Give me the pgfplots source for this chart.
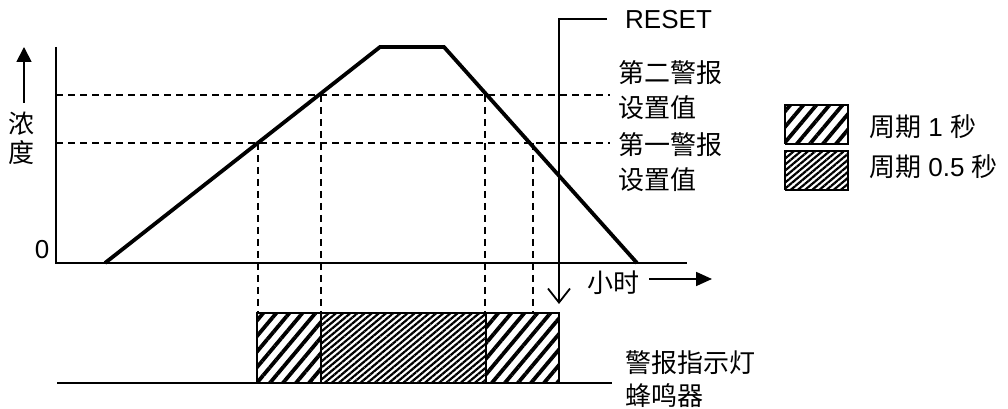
\documentclass[border=0pt]{standalone}
\usepackage{pgfplots}
\pgfplotsset{compat=1.18}
\usepackage{fontspec}
\setmainfont{Liberation Sans}
\newfontfamily\cjk{Noto Sans CJK SC}
\usetikzlibrary{patterns.meta,arrows.meta}
\newcommand\F{\fontsize{26}{30}\selectfont}
\begin{document}
\begin{tikzpicture}
\begin{axis}[width=1008pt,height=409pt,scale only axis,
  xmin=0,xmax=1008,ymin=0,ymax=409,hide axis,clip=false]
% axes
\addplot[line width=2.6pt] coordinates {(56,362) (56,146) (687,146)};
% concentration curve
\addplot[line width=3.8pt] coordinates {(105,146) (380,362) (444,362) (637,146)};
% alarm levels
\addplot[line width=1.9pt,dash pattern=on 7pt off 5pt] coordinates {(56,314) (610,314)};
\addplot[line width=1.9pt,dash pattern=on 7pt off 5pt] coordinates {(56,266) (610,266)};
% vertical dashed
\addplot[line width=1.9pt,dash pattern=on 7pt off 5pt] coordinates {(258,266) (258,96)};
\addplot[line width=1.9pt,dash pattern=on 7pt off 5pt] coordinates {(321,314) (321,96)};
\addplot[line width=1.9pt,dash pattern=on 7pt off 5pt] coordinates {(485,314) (485,96)};
\addplot[line width=1.9pt,dash pattern=on 7pt off 5pt] coordinates {(533,266) (533,96)};
% baseline for alarm
\addplot[line width=2.6pt] coordinates {(57,26) (612,26)};
% bars
\addplot[draw=black,line width=2pt,pattern={Lines[angle=50,distance=10pt,line width=3.8pt]}]
  coordinates {(257,26) (321,26) (321,96) (257,96) (257,26)};
\addplot[draw=black,line width=2pt,pattern={Lines[angle=40,distance=4.6pt,line width=2.2pt]}]
  coordinates {(321,26) (486,26) (486,96) (321,96) (321,26)};
\addplot[draw=black,line width=2pt,pattern={Lines[angle=50,distance=10pt,line width=3.8pt]}]
  coordinates {(486,26) (559,26) (559,96) (486,96) (486,26)};
% RESET line
\addplot[line width=1.8pt,-{Straight Barb[length=14pt,width=22pt]}]
  coordinates {(607,390) (559,390) (559,105)};
% arrows
\addplot[line width=1.8pt,-{Triangle[length=15pt,width=15pt]}] coordinates {(24,306) (24,362)};
\addplot[line width=1.8pt,-{Triangle[length=16pt,width=14pt]}] coordinates {(649,130) (712,130)};
% legend boxes
\addplot[draw=black,line width=2pt,pattern={Lines[angle=50,distance=10pt,line width=3.8pt]}]
  coordinates {(785,265) (848,265) (848,304) (785,304) (785,265)};
\addplot[draw=black,line width=2pt,pattern={Lines[angle=40,distance=4.6pt,line width=2.2pt]}]
  coordinates {(785,219) (848,219) (848,258) (785,258) (785,219)};
% texts
\node[anchor=west,inner sep=0] at (axis cs:625,389) {\F RESET};
\node[anchor=west,inner sep=0] at (axis cs:618,336) {\F\cjk 第二警报};
\node[anchor=west,inner sep=0] at (axis cs:618,301) {\F\cjk 设置值};
\node[anchor=west,inner sep=0] at (axis cs:618,264) {\F\cjk 第一警报};
\node[anchor=west,inner sep=0] at (axis cs:618,229) {\F\cjk 设置值};
\node[anchor=west,inner sep=0] at (axis cs:625,46) {\F\cjk 警报指示灯};
\node[anchor=west,inner sep=0] at (axis cs:625,13) {\F\cjk 蜂鸣器};
\node[anchor=center,inner sep=0] at (axis cs:613,126) {\F\cjk 小时};
\node[anchor=center,inner sep=0] at (axis cs:22,285) {\F\cjk 浓};
\node[anchor=center,inner sep=0] at (axis cs:22,256) {\F\cjk 度};
\node[anchor=center,inner sep=0] at (axis cs:42,159) {\F 0};
\node[anchor=west,inner sep=0] at (axis cs:869,282) {\F{\cjk 周期} 1 {\cjk 秒}};
\node[anchor=west,inner sep=0] at (axis cs:869,242) {\F{\cjk 周期} 0.5 {\cjk 秒}};
\end{axis}
\pgfresetboundingbox
\path (current axis.south west) rectangle (current axis.north east);
\end{tikzpicture}
\end{document}
